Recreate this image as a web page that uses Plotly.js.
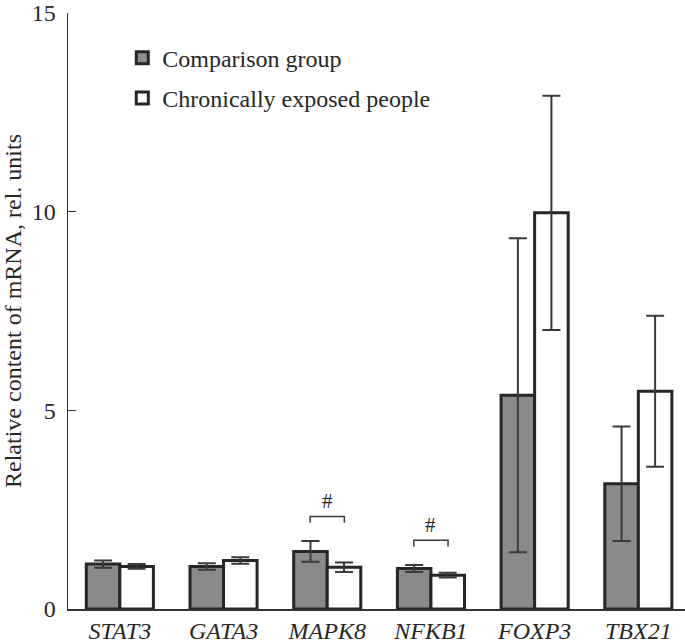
<!DOCTYPE html>
<html>
<head>
<meta charset="utf-8">
<script src="https://cdn.plot.ly/plotly-3.0.1.min.js"></script>
<style>html,body{margin:0;padding:0;background:#fff;}#chart{width:685px;height:644px;}</style>
</head>
<body>
<div id="chart"></div>
<script>
// Data
const genes = ["STAT3", "GATA3", "MAPK8", "NFKB1", "FOXP3", "TBX21"];
const comparisonMean = [1.13, 1.07, 1.45, 1.02, 5.38, 3.15];
const comparisonErr  = [0.09, 0.08, 0.26, 0.09, 3.95, 1.44];
const exposedMean    = [1.07, 1.22, 1.05, 0.85, 9.97, 5.48];
const exposedErr     = [0.06, 0.08, 0.12, 0.06, 2.95, 1.90];
const significant    = [false, false, true, true, false, false];
const yTicks = [0, 5, 10, 15];

const FONT = "Liberation Serif, Times New Roman, serif";
const INK = "#262626";
const FS = 24;

const tickText = genes.map(g => "<i>" + g + "</i>");

const traces = [
  {
    type: "bar", name: "Comparison group", legendgroup: "a",
    x: genes, y: comparisonMean,
    marker: {color: "#8a8a8a", line: {color: INK, width: 3}},
    error_y: {type: "data", array: comparisonErr, visible: true, color: "#3a3a3a", thickness: 2, width: 9}
  },
  {
    type: "bar", name: "Chronically exposed people", legendgroup: "b",
    x: genes, y: exposedMean,
    marker: {color: "#ffffff", line: {color: INK, width: 3}},
    error_y: {type: "data", array: exposedErr, visible: true, color: "#3a3a3a", thickness: 2, width: 9}
  }
];

// significance brackets
const shapes = [];
const annotations = [];
const half = 0.165;
genes.forEach((g, i) => {
  if (!significant[i]) return;
  const top = Math.max(comparisonMean[i] + comparisonErr[i], exposedMean[i] + exposedErr[i]);
  const yb = top + 0.62;
  const drop = 0.16;
  shapes.push({
    type: "path", xref: "x", yref: "y",
    path: `M ${i - half} ${yb - drop} L ${i - half} ${yb} L ${i + half} ${yb} L ${i + half} ${yb - drop}`,
    line: {color: "#3a3a3a", width: 1.5}
  });
  annotations.push({
    xref: "x", yref: "y", x: i, y: yb + 0.04, yanchor: "bottom",
    text: "#", showarrow: false, font: {family: FONT, size: 21, color: INK}
  });
});

const layout = {
  width: 685, height: 644,
  margin: {l: 68, r: 0, t: 13, b: 35},
  paper_bgcolor: "#fff", plot_bgcolor: "#fff",
  font: {family: FONT, size: FS, color: INK},
  barmode: "group", bargap: 0.353, bargroupgap: 0,
  showlegend: true,
  legend: {
    x: 0.088, y: 0.962, xanchor: "left", yanchor: "top",
    bgcolor: "rgba(0,0,0,0)", font: {family: FONT, size: FS, color: INK},
    traceorder: "grouped", tracegroupgap: 6
  },
  xaxis: {
    type: "category", range: [-0.5, 5.45],
    tickmode: "array", tickvals: genes, ticktext: tickText,
    showline: true, linecolor: "#333", linewidth: 1.5,
    ticks: "", showgrid: false, zeroline: false,
    tickfont: {family: FONT, size: FS, color: INK}
  },
  yaxis: {
    range: [0, 15], tickmode: "array", tickvals: yTicks, ticktext: yTicks.map(String),
    showline: true, linecolor: "#333", linewidth: 1.5,
    ticks: "inside", ticklen: 8, tickwidth: 1.5, tickcolor: "#333",
    ticklabelstandoff: 6,
    showgrid: false, zeroline: false,
    tickfont: {family: FONT, size: FS, color: INK},
    title: {text: "Relative content of mRNA, rel. units", font: {family: FONT, size: FS, color: INK}, standoff: 6}
  },
  shapes: shapes,
  annotations: annotations
};

Plotly.newPlot("chart", traces, layout, {displayModeBar: false, staticPlot: true});
</script>
</body>
</html>
